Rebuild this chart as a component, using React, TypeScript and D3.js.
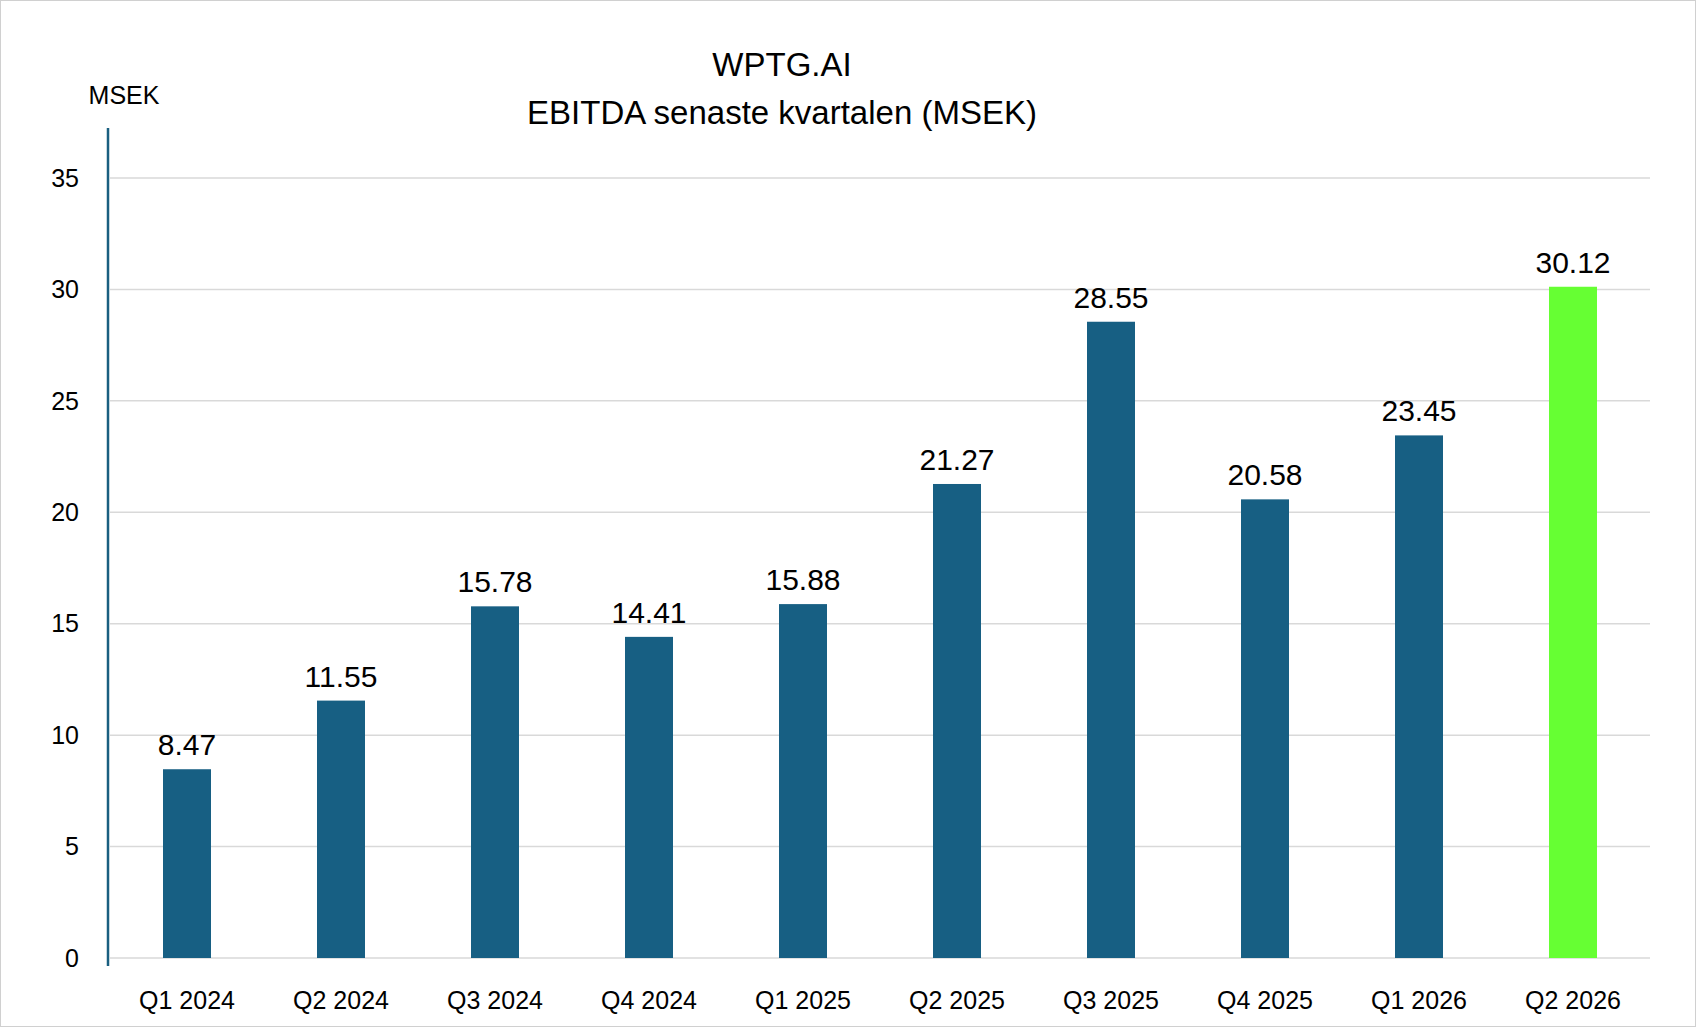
import React from "react";
import * as d3 from "d3";

const categories = ["Q1 2024","Q2 2024","Q3 2024","Q4 2024","Q1 2025","Q2 2025","Q3 2025","Q4 2025","Q1 2026","Q2 2026"];
const values = [8.47,11.55,15.78,14.41,15.88,21.27,28.55,20.58,23.45,30.12];
const yTicks = [0,5,10,15,20,25,30,35];

const W = 1696, H = 1027;
const left = 110, right = 1650, y0 = 958, y35 = 178;

export default function App() {
  const x = d3.scaleBand<string>().domain(categories).range([left, right]).paddingInner(0).paddingOuter(0);
  const y = d3.scaleLinear().domain([0, 35]).range([y0, y35]);
  const bw = 48;
  const font = "Calibri, Carlito, 'Liberation Sans', Arial, sans-serif";
  return (
    <div style={{ position: "absolute", left: 0, top: 0 }}>
      <svg width={W} height={H} style={{ display: "block", fontFamily: "'Liberation Sans', Arial, sans-serif" }}>
        <rect x={0.5} y={0.5} width={W - 1} height={H - 1} fill="#fff" stroke="#d0d0d0" />
        {yTicks.map(t => (
          <g key={t}>
            {t > 0 && <line x1={left} x2={right} y1={y(t)} y2={y(t)} stroke="#d9d9d9" strokeWidth={1.5} />}
            <text x={79} y={y(t)} dy="0.35em" textAnchor="end" fontSize={25} fill="#000">{t}</text>
          </g>
        ))}
        <line x1={left} x2={right} y1={y0} y2={y0} stroke="#d9d9d9" strokeWidth={1.5} />
        <line x1={108} x2={108} y1={128} y2={966} stroke="#1a5f80" strokeWidth={2.5} />
        {categories.map((c, i) => {
          const cx = (x(c) as number) + x.bandwidth() / 2;
          return (
            <g key={c}>
              <rect x={cx - bw / 2} y={y(values[i])} width={bw} height={y0 - y(values[i])}
                fill={i === categories.length - 1 ? "#66ff33" : "#175f83"} />
              <text x={cx} y={y(values[i]) - 14} textAnchor="middle" fontSize={30} fill="#000">{values[i].toFixed(2)}</text>
              <text x={cx} y={1000} dy="0.35em" textAnchor="middle" fontSize={25} fill="#000">{c}</text>
            </g>
          );
        })}
        <text x={124} y={95} dy="0.35em" textAnchor="middle" fontSize={25}>MSEK</text>
        <text x={782} y={64} dy="0.35em" textAnchor="middle" fontSize={33}>WPTG.AI</text>
        <text x={782} y={112} dy="0.35em" textAnchor="middle" fontSize={33}>EBITDA senaste kvartalen (MSEK)</text>
      </svg>
    </div>
  );
}
